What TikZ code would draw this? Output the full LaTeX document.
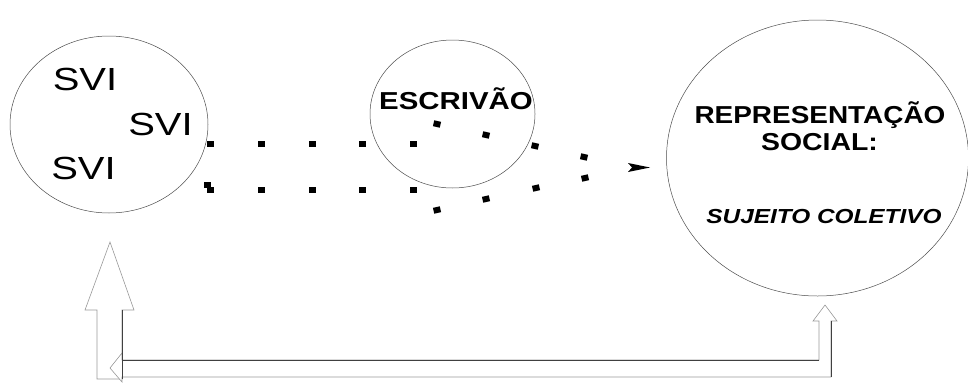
\documentclass[tikz,border=0pt]{standalone}
\usepackage{fontspec}
\usepackage{graphicx}
\setmainfont{Liberation Sans}
\usetikzlibrary{shapes.geometric}
\begin{document}
\begin{tikzpicture}[x=1pt,y=-1pt,
  oval/.style={ellipse, draw=black!70, line width=0.5pt, inner sep=0pt},
  txt/.style={inner sep=0pt, anchor=base},
  sq/.style={fill=black, minimum width=7pt, minimum height=6pt, inner sep=0pt},
  hollow/.style={draw=black!40, line width=0.6pt, fill=white, line join=miter},
  edge/.style={draw=black!75, line width=0.6pt}]
\useasboundingbox (0,0) rectangle (968,383);

% the three circles
\node[oval, minimum width=198pt, minimum height=177pt] (svi) at (109,124.5) {};
\node[oval, minimum width=165pt, minimum height=148pt] (escr) at (452.5,114) {};
\node[oval, minimum width=302pt, minimum height=276pt] (rep) at (817.5,158) {};

% texts
\node[txt] (s1) at (85,90) {\fontsize{32}{38}\selectfont\scalebox{1.25}[1]{SVI}};
\node[txt] (s2) at (160.5,135) {\fontsize{32}{38}\selectfont\scalebox{1.25}[1]{SVI}};
\node[txt] (s3) at (83.5,179) {\fontsize{32}{38}\selectfont\scalebox{1.25}[1]{SVI}};
\node[txt] (te) at (456,109) {\fontsize{24.5}{29}\selectfont\bfseries\scalebox{1.2}[1]{ESCRIVÃO}};
\node[txt] (tr1) at (820,123.3) {\fontsize{24.5}{29}\selectfont\bfseries\scalebox{1.14}[1]{REPRESENTAÇÃO}};
\node[txt] (tr2) at (819.5,150) {\fontsize{24.5}{29}\selectfont\bfseries\scalebox{1.16}[1]{SOCIAL:}};
\node[txt] (tr3) at (824,223) {\fontsize{20.3}{24}\selectfont\bfseries\itshape\scalebox{1.2}[1]{SUJEITO COLETIVO}};

% dotted flow: two straight rows ...
\foreach \x [count=\i] in {210,261,312,362,413} {
  \node[sq] (a\i) at (\x,144) {};
  \node[sq] (b\i) at (\x,190) {};
}
\node[sq] (b0) at (207,185) {};
% ... bending through the scribe's circle towards the arrow tip
\foreach \x/\y [count=\i] in {437/124,486/135,535/146,584/157}
  \node[sq, rotate=-13] (c\i) at (\x,\y) {};
\foreach \x/\y [count=\i] in {437/210,486/199,536/188,585/178}
  \node[sq, rotate=13] (d\i) at (\x,\y) {};
\coordinate (tip) at (650,167.5);
\fill (tip) -- ++(-22,-4.5) -- ++(4,4.5) -- ++(-4,4.5) -- cycle;

% feedback: hollow arrow back to the SVI circle
\draw[hollow] (110,242) -- (134,310) -- (122,310) -- (122,379)
  -- (97,379) -- (97,310) -- (85,310) -- cycle;
\draw[hollow] (825,305) -- (837,321) -- (831,321) -- (831,377)
  -- (122,377) -- (122,382) -- (110,368) -- (122,353) -- (122,360)
  -- (819,360) -- (819,321) -- (813,321) -- cycle;
\draw[edge] (122,360) -- (819,360);
\draw[edge] (831,321) -- (831,377);
\draw[edge] (122,310) -- (122,379);
\end{tikzpicture}
\end{document}
